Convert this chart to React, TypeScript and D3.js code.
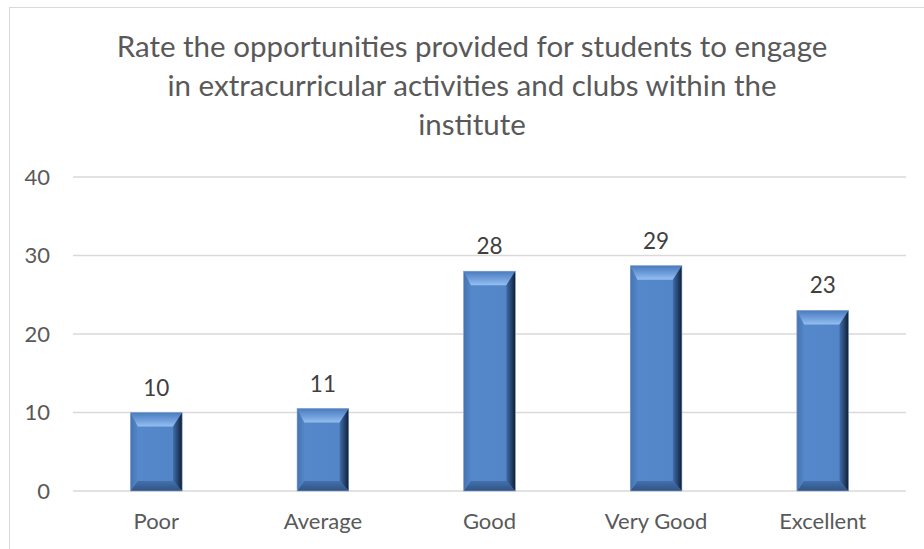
import React from "react";
import * as d3 from "d3";

const categories = ["Poor", "Average", "Good", "Very Good", "Excellent"];
const values = [10, 10.5, 28, 28.7, 23];
const yTicks = [0, 10, 20, 30, 40];
const titleLines = [
  "Rate the opportunities provided for students to engage",
  "in extracurricular activities and clubs within the",
  "institute",
];

const W = 924;
const H = 549;
const FONT = "Lato, 'Open Sans', sans-serif";

export default function App() {
  const x = d3
    .scaleBand<string>()
    .domain(categories)
    .range([73, 906])
    .paddingInner(0.69)
    .paddingOuter(0.345);
  const y = d3.scaleLinear().domain([0, 40]).range([491, 177]);
  const fmt = (v: number) => String(Math.round(v));

  const bt = 14, bb = 10, bl = 7, br = 9;

  return (
    <svg
      width={W}
      height={H}
      style={{ position: "absolute", left: 0, top: 0, background: "#fff" }}
    >
      <defs>
        <linearGradient id="gTop" x1="0" y1="0" x2="0" y2="1">
          <stop offset="0" stopColor="#4a7bbd" />
          <stop offset="0.55" stopColor="#6f9edb" />
          <stop offset="1" stopColor="#96bff0" />
        </linearGradient>
        <linearGradient id="gRight" x1="0" y1="0" x2="1" y2="0">
          <stop offset="0" stopColor="#3f6ca8" />
          <stop offset="0.6" stopColor="#233f66" />
          <stop offset="1" stopColor="#0f1d33" />
        </linearGradient>
        <linearGradient id="gLeft" x1="0" y1="0" x2="1" y2="0">
          <stop offset="0" stopColor="#4573b0" />
          <stop offset="1" stopColor="#5286c8" />
        </linearGradient>
        <linearGradient id="gBottom" x1="0" y1="0" x2="0" y2="1">
          <stop offset="0" stopColor="#4470ab" />
          <stop offset="1" stopColor="#2f5385" />
        </linearGradient>
        <linearGradient id="gFace" x1="0" y1="0" x2="1" y2="0">
          <stop offset="0" stopColor="#5589cc" />
          <stop offset="1" stopColor="#5285c6" />
        </linearGradient>
      </defs>

      <rect
        x={9.5}
        y={7.5}
        width={W}
        height={H}
        fill="#fff"
        stroke="#d9d9d9"
        strokeWidth={1}
      />

      {titleLines.map((t, i) => (
        <text
          key={i}
          x={472}
          y={57 + i * 39}
          textAnchor="middle"
          fontFamily={FONT}
          fontSize={29.5}
          fill="#595959"
        >
          {t}
        </text>
      ))}

      {yTicks.map((t) => (
        <g key={t}>
          <line
            x1={73}
            x2={906}
            y1={y(t)}
            y2={y(t)}
            stroke="#d9d9d9"
            strokeWidth={1.3}
          />
          <text
            x={50}
            y={y(t)}
            dy="0.35em"
            textAnchor="end"
            fontFamily={FONT}
            fontSize={22}
            fill="#595959"
          >
            {t}
          </text>
        </g>
      ))}

      {categories.map((c, i) => {
        const x0 = x(c)!;
        const w = x.bandwidth();
        const x1 = x0 + w;
        const yt = y(values[i]);
        const yb = y(0);
        return (
          <g key={c}>
            <rect x={x0} y={yt} width={w} height={yb - yt} fill="url(#gFace)" />
            <polygon
              points={`${x0},${yt} ${x1},${yt} ${x1 - br},${yt + bt} ${x0 + bl},${yt + bt}`}
              fill="url(#gTop)"
            />
            <polygon
              points={`${x0},${yb} ${x1},${yb} ${x1 - br},${yb - bb} ${x0 + bl},${yb - bb}`}
              fill="url(#gBottom)"
            />
            <polygon
              points={`${x0},${yt} ${x0 + bl},${yt + bt} ${x0 + bl},${yb - bb} ${x0},${yb}`}
              fill="url(#gLeft)"
            />
            <polygon
              points={`${x1},${yt} ${x1 - br},${yt + bt} ${x1 - br},${yb - bb} ${x1},${yb}`}
              fill="url(#gRight)"
            />
            <rect
              x={x0}
              y={yt}
              width={w}
              height={yb - yt}
              fill="none"
              stroke="#8fa9c9"
              strokeWidth={0.6}
            />
            <text
              x={x0 + w / 2}
              y={yt - 17}
              textAnchor="middle"
              fontFamily={FONT}
              fontSize={22.5}
              fill="#404040"
            >
              {fmt(values[i])}
            </text>
            <text
              x={x0 + w / 2}
              y={529}
              textAnchor="middle"
              fontFamily={FONT}
              fontSize={22}
              fill="#595959"
            >
              {c}
            </text>
          </g>
        );
      })}
    </svg>
  );
}
